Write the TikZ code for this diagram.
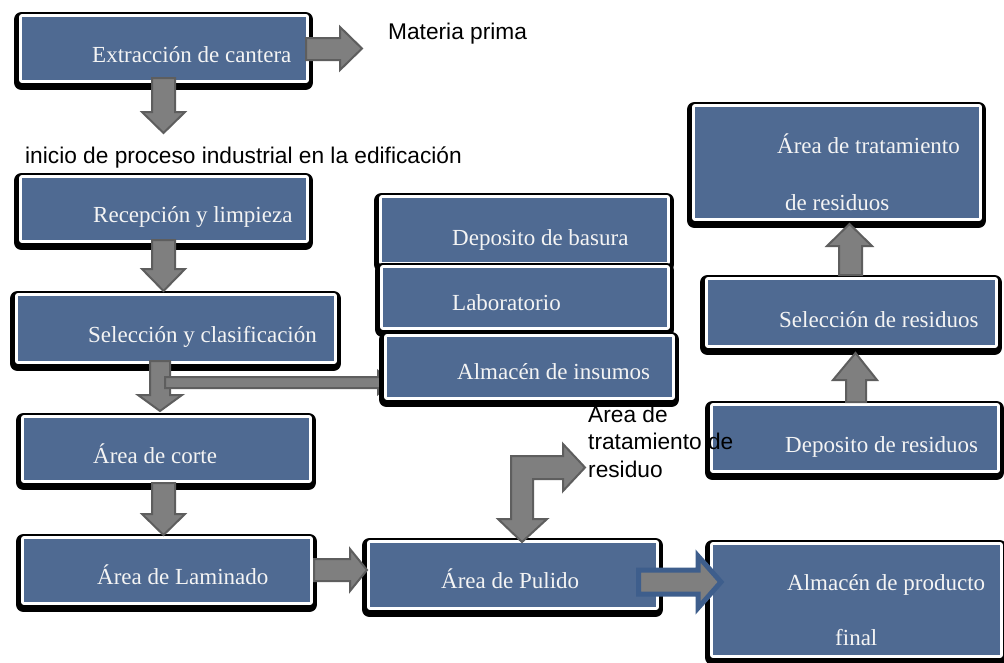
\documentclass[tikz,border=0pt]{standalone}
\usepackage{fontspec}
\setmainfont{Liberation Serif}
\newfontfamily\arialf{Liberation Sans}
\definecolor{boxblue}{HTML}{4F6A92}
\definecolor{agray}{HTML}{7F7F7F}
\definecolor{agrayd}{HTML}{5E5E5E}
\definecolor{aoutblue}{HTML}{3E5E8C}
\definecolor{txtw}{HTML}{F4F4F4}
\tikzset{
  bx/.style={rectangle, fill=boxblue, inner sep=0pt, outer sep=0pt, anchor=north west,
    preaction={draw=black, fill=black, line width=15pt, line join=round,
      transform canvas={shift={(-0.5pt,-2.5pt)}}},
    preaction={draw=white, fill=white, line width=6pt, line join=round}},
  bt/.style={anchor=base west, inner sep=0pt, text=txtw, font=\fontsize{23}{27}\selectfont},
  st/.style={anchor=base west, inner sep=0pt, text=black, font=\arialf\fontsize{22.7}{27.5}\selectfont},
  garrow/.style={fill=agray, draw=agrayd, line width=2pt, line join=miter},
  barrow/.style={fill=agray, draw=aoutblue, line width=5pt, line join=miter}
}
\begin{document}
\begin{tikzpicture}[x=1pt,y=-1pt]
\useasboundingbox (0,0) rectangle (1004,662);
\fill[white] (0,0) rectangle (1004,662);

% boxes
\node[bx, minimum width=284pt, minimum height=63pt] (b1) at (22,17) {};
\node[bx, minimum width=284pt, minimum height=62pt] (b2) at (22,178) {};
\node[bx, minimum width=316pt, minimum height=65pt] (b3) at (18,296) {};
\node[bx, minimum width=285pt, minimum height=62pt] (b4) at (24,418) {};
\node[bx, minimum width=286pt, minimum height=63pt] (b5) at (24,539) {};
\node[bx, minimum width=286pt, minimum height=64pt] (b6) at (370,543) {};
\node[bx, minimum width=287pt, minimum height=110pt] (b7) at (713,545) {};
\node[bx, minimum width=284pt, minimum height=111pt] (rA) at (695,107) {};
\node[bx, minimum width=287pt, minimum height=65pt] (rB) at (708,280) {};
\node[bx, minimum width=284pt, minimum height=64pt] (rC) at (713,406) {};
\node[bx, minimum width=285pt, minimum height=64pt] (bas) at (382,198) {};
\node[bx, minimum width=284pt, minimum height=59pt] (lab) at (383,268) {};

% box texts
\node[bt] (t1) at (92,62) {Extracción de cantera};
\node[bt] (t2) at (93,222) {Recepción y limpieza};
\node[bt] (t3) at (88,342) {Selección y clasificación};
\node[bt] (t4) at (93,463) {Área de corte};
\node[bt] (t5) at (97,584) {Área de Laminado};
\node[bt] (t6) at (441,588) {Área de Pulido};
\node[bt] (t7a) at (787,590) {Almacén de producto};
\node[bt] (t7b) at (835,645) {final};
\node[bt] (tA1) at (777,153) {Área de tratamiento};
\node[bt] (tA2) at (785,210) {de residuos};
\node[bt] (tB) at (779,327) {Selección de residuos};
\node[bt] (tC) at (785,452) {Deposito de residuos};
\node[bt] (tbas) at (452,245) {Deposito de basura};
\node[bt] (tlab) at (452,310) {Laboratorio};

% free labels
\node[st] (lmp) at (388,39) {Materia prima};
\node[st] (lini) at (25,163) {inicio de proceso industrial en la edificación};

% gray arrows
\draw[garrow] (306,38) -- (340,38) -- (340,27) -- (362,48.5) -- (340,70) -- (340,60) -- (306,60) -- cycle;
\draw[garrow] (152,78) -- (175,78) -- (175,112) -- (185,112) -- (163.5,133) -- (142,112) -- (152,112) -- cycle;
\draw[garrow] (152,240) -- (175,240) -- (175,269) -- (185,269) -- (163.5,291) -- (142,269) -- (152,269) -- cycle;
\draw[garrow] (150,361) -- (170,361) -- (170,395) -- (182,395) -- (160,411) -- (138,395) -- (150,395) -- cycle;
\draw[garrow] (165,377) -- (378,377) -- (378,371) -- (392,382.5) -- (378,394) -- (378,388) -- (165,388) -- cycle;
\draw[garrow] (152,483) -- (175,483) -- (175,514) -- (185,514) -- (163.5,535) -- (142,514) -- (152,514) -- cycle;
\draw[garrow] (314,559) -- (350,559) -- (350,549) -- (367,570) -- (350,591) -- (350,581) -- (314,581) -- cycle;
\draw[garrow] (511,456) -- (563,456) -- (563,444) -- (585,467.5) -- (563,491) -- (563,479) -- (533,479) -- (533,519) -- (547,519) -- (522,542) -- (498,519) -- (511,519) -- cycle;
\draw[garrow] (846,402) -- (866,402) -- (866,380) -- (877,380) -- (855.5,353) -- (833,380) -- (846,380) -- cycle;
\draw[garrow] (839,275) -- (862,275) -- (862,246) -- (872,246) -- (849.5,224) -- (827,246) -- (839,246) -- cycle;

% label on the bent arrow
\node[st] (ltr1) at (588,422) {Área de};
\node[st] (ltr2) at (588,449) {tratamiento de};
\node[st] (ltr3) at (588,477) {residuo};

% top of the stack
\node[bx, minimum width=285pt, minimum height=60pt] (ins) at (387,337) {};
\node[bt] (tins) at (457,379) {Almacén de insumos};

% blue outlined arrow
\draw[barrow] (638.5,570) -- (698,570) -- (698,556) -- (721,582) -- (698,608) -- (698,594) -- (638.5,594) -- cycle;
\end{tikzpicture}
\end{document}
